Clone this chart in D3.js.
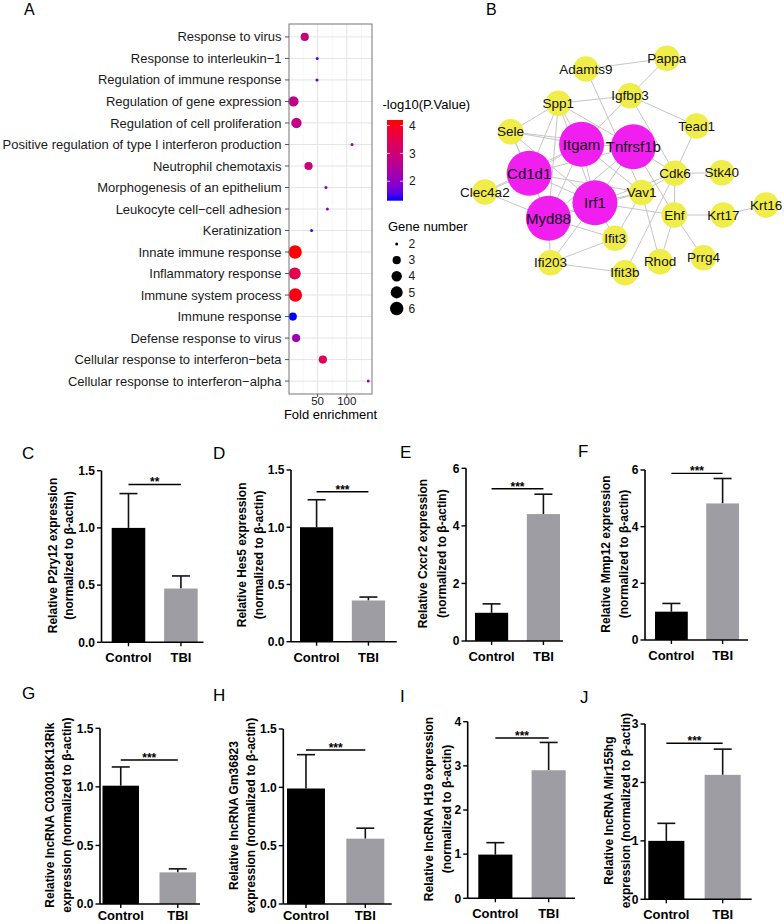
<!DOCTYPE html>
<html>
<head>
<meta charset="utf-8">
<script src="https://cdn.jsdelivr.net/npm/d3@7"></script>
<style>
  body { margin: 0; background: #fff; }
  svg { display: block; font-family: Arial, "Liberation Sans", sans-serif; }
</style>
</head>
<body>
<svg id="fig" width="784" height="924"></svg>
<script>
// ---------- panel A : GO enrichment ----------
const termNames = [
  "Response to virus", "Response to interleukin\u22121", "Regulation of immune response",
  "Regulation of gene expression", "Regulation of cell proliferation",
  "Positive regulation of type I interferon production", "Neutrophil chemotaxis",
  "Morphogenesis of an epithelium", "Leukocyte cell\u2212cell adhesion", "Keratinization",
  "Innate immune response", "Inflammatory response", "Immune system process",
  "Immune response", "Defense response to virus",
  "Cellular response to interferon\u2212beta", "Cellular response to interferon\u2212alpha"
];
const foldEnrichment = [28, 49.4, 49, 8.6, 13.8, 109, 34.5, 64.3, 66.7, 39.7, 11.5, 10.9, 12, 7.5, 13.2, 59, 136.7];
const logP = [2.9, 1.5, 1.5, 2.7, 2.8, 2.2, 3.0, 1.8, 2.1, 1.4, 4.2, 3.5, 4.1, 1.3, 2.2, 3.4, 2.2];
const geneCount = [3, 2, 2, 4, 4, 2, 3, 2, 2, 2, 6, 5, 6, 3, 3, 3, 2];
const foldTicks = [50, 100];
const pTicks = [2, 3, 4];
const geneLegend = [2, 3, 4, 5, 6];

// ---------- panel B : PPI network ----------
const nodeNames = ["Pappa", "Adamts9", "Igfbp3", "Spp1", "Tead1", "Sele", "Itgam", "Tnfrsf1b", "Cd1d1",
  "Cdk6", "Stk40", "Clec4a2", "Vav1", "Irf1", "Myd88", "Ehf", "Krt17", "Krt16", "Ifit3", "Ifi203",
  "Rhod", "Prrg4", "Ifit3b"];
// layout units (0-100)
const nodeX = [63.5, 37.4, 51.6, 28.5, 73.1, 13.1, 36.0, 52.7, 19.1, 66.1, 81.2, 4.8, 55.4, 40.3, 25.3, 65.9, 81.7, 95.5, 46.8, 26.0, 61.3, 75.3, 50.0];
const nodeY = [7.3, 11.6, 22.3, 25.3, 34.4, 36.7, 41.7, 42.7, 53.3, 53.3, 53.1, 60.8, 61.0, 65.1, 71.3, 70.0, 70.0, 66.0, 79.3, 89.1, 88.7, 87.1, 93.1];
const hubNodes = ["Itgam", "Tnfrsf1b", "Cd1d1", "Irf1", "Myd88"];
const edges = [
  ["Adamts9", "Pappa"], ["Pappa", "Igfbp3"], ["Spp1", "Igfbp3"], ["Igfbp3", "Tead1"], ["Igfbp3", "Itgam"],
  ["Igfbp3", "Cdk6"], ["Adamts9", "Vav1"],
  ["Spp1", "Sele"], ["Spp1", "Itgam"], ["Spp1", "Cd1d1"], ["Spp1", "Irf1"], ["Spp1", "Tnfrsf1b"], ["Spp1", "Myd88"],
  ["Sele", "Itgam"], ["Sele", "Tnfrsf1b"], ["Sele", "Cd1d1"], ["Sele", "Myd88"], ["Sele", "Irf1"],
  ["Tead1", "Cdk6"], ["Cdk6", "Stk40"], ["Cdk6", "Vav1"], ["Cdk6", "Tnfrsf1b"], ["Cdk6", "Irf1"],
  ["Cdk6", "Ifit3b"], ["Cdk6", "Ehf"], ["Tnfrsf1b", "Ehf"],
  ["Ehf", "Krt17"], ["Krt17", "Krt16"], ["Ehf", "Prrg4"], ["Ehf", "Rhod"], ["Ehf", "Irf1"],
  ["Vav1", "Itgam"], ["Vav1", "Irf1"], ["Vav1", "Cd1d1"], ["Vav1", "Myd88"], ["Vav1", "Rhod"], ["Vav1", "Ifit3"],
  ["Ifit3", "Irf1"], ["Ifit3", "Ifi203"], ["Ifit3", "Myd88"],
  ["Ifi203", "Myd88"], ["Ifi203", "Ifit3b"], ["Ifi203", "Irf1"],
  ["Clec4a2", "Cd1d1"], ["Clec4a2", "Myd88"], ["Clec4a2", "Itgam"],
  ["Itgam", "Tnfrsf1b"], ["Itgam", "Cd1d1"], ["Itgam", "Irf1"], ["Itgam", "Myd88"],
  ["Tnfrsf1b", "Irf1"], ["Tnfrsf1b", "Myd88"], ["Tnfrsf1b", "Cd1d1"],
  ["Cd1d1", "Irf1"], ["Cd1d1", "Myd88"], ["Irf1", "Myd88"]
];

// ---------- panels C-J : qPCR bars ----------
const groups = ["Control", "TBI"];
const barLetters = ["C", "D", "E", "F", "G", "H", "I", "J"];
const barMeans = [[1.0, 0.47], [1.0, 0.36], [0.98, 4.41], [1.0, 4.82], [1.01, 0.27], [0.99, 0.56], [0.99, 2.9], [1.0, 2.13]];
const barUpper = [[1.30, 0.58], [1.24, 0.39], [1.29, 5.1], [1.29, 5.7], [1.17, 0.30], [1.28, 0.65], [1.26, 3.53], [1.30, 2.57]];
const yMax = [1.5, 1.5, 6, 6, 1.5, 1.5, 4, 3];
const yStep = [0.5, 0.5, 2, 2, 0.5, 0.5, 1, 1];
const sigLevel = [1.38, 1.31, 5.29, 5.88, 1.23, 1.32, 3.63, 2.67];
const sigMarks = ["**", "***", "***", "***", "***", "***", "***", "***"];
const yTitles = [
  ["Relative P2ry12 expression", "(normalized to \u03b2-actin)"],
  ["Relative Hes5 expression", "(normalized to \u03b2-actin)"],
  ["Relative Cxcr2 expression", "(normalized to \u03b2-actin)"],
  ["Relative Mmp12 expression", "(normalized to \u03b2-actin)"],
  ["Relative lncRNA C030018K13Rik", "expression (normalized to \u03b2-actin)"],
  ["Relative lncRNA Gm36823", "expression (normalized to \u03b2-actin)"],
  ["Relative lncRNA H19 expression", "(normalized to \u03b2-actin)"],
  ["Relative lncRNA Mir155hg", "expression (normalized to \u03b2-actin)"]
];

const svg = d3.select("#fig");

// panel letters
const letterPos = [["A", 24, 15], ["B", 486, 15]];
svg.selectAll(".letterTop").data(letterPos).join("text")
  .attr("x", d => d[1]).attr("y", d => d[2])
  .attr("font-size", 16).text(d => d[0]);

// ================= panel A =================
const boxA = { left: 289, right: 372, top: 24, bottom: 394 };
const fe = d3.extent(foldEnrichment), pad = (fe[1] - fe[0]) * 0.05;
const xA = d3.scaleLinear().domain([fe[0] - pad, fe[1] + pad]).range([boxA.left, boxA.right]);
const yA = d3.scalePoint().domain(termNames).range([boxA.top, boxA.bottom]).padding(0.6);
const pExt = d3.extent(logP);
const colA = d3.scaleLinear().domain(pExt).range(["blue", "red"]).interpolate(d3.interpolateLab);
const rBase = d3.scaleSqrt().domain([0, 4]).range([1.5, 6.7]);
const rA = g => rBase(g - 2);

const gA = svg.append("g");
// minor grid
gA.selectAll(".minor").data([25, 75, 125]).join("line")
  .attr("x1", d => xA(d)).attr("x2", d => xA(d))
  .attr("y1", boxA.top).attr("y2", boxA.bottom)
  .attr("stroke", "#f2f2f2").attr("stroke-width", 0.6);
gA.selectAll(".majorX").data(foldTicks).join("line")
  .attr("x1", d => xA(d)).attr("x2", d => xA(d))
  .attr("y1", boxA.top).attr("y2", boxA.bottom)
  .attr("stroke", "#e4e4e4").attr("stroke-width", 1);
gA.selectAll(".majorY").data(termNames).join("line")
  .attr("x1", boxA.left).attr("x2", boxA.right)
  .attr("y1", d => yA(d)).attr("y2", d => yA(d))
  .attr("stroke", "#e4e4e4").attr("stroke-width", 1);

gA.selectAll("circle").data(termNames).join("circle")
  .attr("cx", (d, i) => xA(foldEnrichment[i]))
  .attr("cy", d => yA(d))
  .attr("r", (d, i) => rA(geneCount[i]))
  .attr("fill", (d, i) => colA(logP[i]));

gA.append("rect")
  .attr("x", boxA.left).attr("y", boxA.top)
  .attr("width", boxA.right - boxA.left).attr("height", boxA.bottom - boxA.top)
  .attr("fill", "none").attr("stroke", "#777").attr("stroke-width", 1);

// y axis labels
gA.selectAll(".ytick").data(termNames).join("line")
  .attr("x1", boxA.left - 4).attr("x2", boxA.left)
  .attr("y1", d => yA(d)).attr("y2", d => yA(d))
  .attr("stroke", "#555");
gA.selectAll(".ylab").data(termNames).join("text")
  .attr("x", boxA.left - 7.5).attr("y", d => yA(d))
  .attr("dy", "0.35em").attr("text-anchor", "end")
  .attr("font-size", 13).attr("fill", "#1a1a1a")
  .text(d => d);
// x axis
gA.selectAll(".xtick").data(foldTicks).join("line")
  .attr("x1", d => xA(d)).attr("x2", d => xA(d))
  .attr("y1", boxA.bottom).attr("y2", boxA.bottom + 3)
  .attr("stroke", "#555");
gA.selectAll(".xlab").data(foldTicks).join("text")
  .attr("x", d => xA(d)).attr("y", boxA.bottom + 10.5)
  .attr("text-anchor", "middle").attr("font-size", 11.5).attr("fill", "#1a1a1a")
  .text(d => d);
gA.append("text").attr("x", (boxA.left + boxA.right) / 2).attr("y", boxA.bottom + 25)
  .attr("text-anchor", "middle").attr("font-size", 13).text("Fold enrichment");

// colour legend
const cb = { x: 387, w: 16, top: 120, bottom: 200.7 };
const yCb = d3.scaleLinear().domain(pExt).range([cb.bottom, cb.top]);
const grad = svg.append("defs").append("linearGradient").attr("id", "pgrad")
  .attr("x1", 0).attr("x2", 0).attr("y1", 1).attr("y2", 0);
grad.selectAll("stop").data(d3.range(0, 1.001, 0.1)).join("stop")
  .attr("offset", d => d)
  .attr("stop-color", d => colA(pExt[0] + d * (pExt[1] - pExt[0])));
gA.append("text").attr("x", 382.5).attr("y", 108.5).attr("font-size", 13).text("-log10(P.Value)");
gA.append("rect").attr("x", cb.x).attr("y", cb.top).attr("width", cb.w).attr("height", cb.bottom - cb.top)
  .attr("fill", "url(#pgrad)");
pTicks.forEach(t => {
  gA.append("line").attr("x1", cb.x).attr("x2", cb.x + 3).attr("y1", yCb(t)).attr("y2", yCb(t))
    .attr("stroke", "#fff").attr("stroke-opacity", 0.7);
  gA.append("line").attr("x1", cb.x + cb.w - 3).attr("x2", cb.x + cb.w).attr("y1", yCb(t)).attr("y2", yCb(t))
    .attr("stroke", "#fff").attr("stroke-opacity", 0.7);
});
gA.selectAll(".cblab").data(pTicks).join("text")
  .attr("x", cb.x + cb.w + 6).attr("y", d => yCb(d)).attr("dy", "0.35em")
  .attr("font-size", 12).attr("fill", "#1a1a1a").text(d => d);

// size legend
gA.append("text").attr("x", 388).attr("y", 230.5).attr("font-size", 13).text("Gene number");
const ySz = d3.scalePoint().domain(geneLegend).range([244, 308.5]);
gA.selectAll(".szdot").data(geneLegend).join("circle")
  .attr("cx", 396.7).attr("cy", d => ySz(d)).attr("r", d => rA(d)).attr("fill", "#000");
gA.selectAll(".szlab").data(geneLegend).join("text")
  .attr("x", 408.5).attr("y", d => ySz(d)).attr("dy", "0.35em")
  .attr("font-size", 12).attr("fill", "#1a1a1a").text(d => d);

// ================= panel B =================
const xB = d3.scaleLinear().domain([0, 100]).range([470, 780]);
const yB = d3.scaleLinear().domain([0, 100]).range([40, 290]);
const nodes = nodeNames.map((n, i) => ({ name: n, x: xB(nodeX[i]), y: yB(nodeY[i]), hub: hubNodes.includes(n) }));
const byName = new Map(nodes.map(n => [n.name, n]));
const rB = d3.scaleOrdinal().domain([true, false]).range([22.5, 12.8]);
const colB = d3.scaleOrdinal().domain([true, false]).range(["#f01ff0", "#f0ec48"]);

const gB = svg.append("g");
gB.selectAll("line").data(edges).join("line")
  .attr("x1", d => byName.get(d[0]).x).attr("y1", d => byName.get(d[0]).y)
  .attr("x2", d => byName.get(d[1]).x).attr("y2", d => byName.get(d[1]).y)
  .attr("stroke", "#c6c6c6").attr("stroke-width", 1);
gB.selectAll("circle").data(nodes).join("circle")
  .attr("cx", d => d.x).attr("cy", d => d.y)
  .attr("r", d => rB(d.hub)).attr("fill", d => colB(d.hub));
gB.selectAll("text").data(nodes).join("text")
  .attr("x", d => d.x).attr("y", d => d.y).attr("dy", "0.35em")
  .attr("text-anchor", "middle").attr("font-size", d => d.hub ? 15 : 13.5)
  .attr("fill", "#111").text(d => d.name);

// ================= panels C-J =================
const barLayouts = [
  { axisX: 101.5, axisEnd: 203.5, y0: 642.3, y1: 470.7, bars: [111.7, 197.7], letter: [22, 459], titleX: [53, 68.5] },
  { axisX: 291, axisEnd: 396.7, y0: 641.7, y1: 470, bars: [300, 385], letter: [213, 459], titleX: [241.7, 258.5] },
  { axisX: 466, axisEnd: 563, y0: 641, y1: 468.3, bars: [475, 560], letter: [400, 458], titleX: [423, 441.7] },
  { axisX: 645, axisEnd: 748, y0: 640, y1: 470, bars: [655, 739], letter: [578, 457], titleX: [606, 623.5] },
  { axisX: 100, axisEnd: 200, y0: 904, y1: 728.3, bars: [102.5, 196], letter: [22, 699], titleX: [49.3, 66.3] },
  { axisX: 283.3, axisEnd: 391.7, y0: 904, y1: 729, bars: [287, 384.3], letter: [213, 700.5], titleX: [233.3, 250.7] },
  { axisX: 467.7, axisEnd: 575, y0: 898.3, y1: 721.7, bars: [478.3, 565.7], letter: [400, 701.5], titleX: [428.3, 446.7] },
  { axisX: 645, axisEnd: 751.7, y0: 899.3, y1: 724, bars: [648.3, 740.7], letter: [580, 702.5], titleX: [608.3, 625.3] }
];
const barFill = d3.scaleOrdinal().domain(groups).range(["#000000", "#9e9da3"]);

barLayouts.forEach((L, k) => {
  const g = svg.append("g");
  const x = d3.scaleBand().domain(groups).range(L.bars).paddingInner(0.36).paddingOuter(0);
  const y = d3.scaleLinear().domain([0, yMax[k]]).range([L.y0, L.y1]);
  const ticks = d3.range(0, yMax[k] + 1e-9, yStep[k]);
  const fmt = yStep[k] < 1 ? d3.format(".1f") : d3.format("d");

  // error bars (upper only)
  groups.forEach((grp, j) => {
    const cx = x(grp) + x.bandwidth() / 2;
    g.append("line").attr("x1", cx).attr("x2", cx)
      .attr("y1", y(barMeans[k][j])).attr("y2", y(barUpper[k][j]))
      .attr("stroke", "#111").attr("stroke-width", 1.6);
    g.append("line").attr("x1", cx - 9).attr("x2", cx + 9)
      .attr("y1", y(barUpper[k][j])).attr("y2", y(barUpper[k][j]))
      .attr("stroke", "#111").attr("stroke-width", 1.6);
  });
  g.selectAll("rect").data(groups).join("rect")
    .attr("x", d => x(d)).attr("width", x.bandwidth())
    .attr("y", (d, j) => y(barMeans[k][j]))
    .attr("height", (d, j) => L.y0 - y(barMeans[k][j]))
    .attr("fill", d => barFill(d));

  // axes
  g.append("line").attr("x1", L.axisX).attr("x2", L.axisX).attr("y1", L.y0).attr("y2", L.y1)
    .attr("stroke", "#000").attr("stroke-width", 1.6);
  g.append("line").attr("x1", L.axisX).attr("x2", L.axisEnd).attr("y1", L.y0).attr("y2", L.y0)
    .attr("stroke", "#000").attr("stroke-width", 1.6);
  g.selectAll(".yt").data(ticks).join("line")
    .attr("x1", L.axisX - 4.5).attr("x2", L.axisX).attr("y1", d => y(d)).attr("y2", d => y(d))
    .attr("stroke", "#000").attr("stroke-width", 1.4);
  g.selectAll(".yl").data(ticks).join("text")
    .attr("x", L.axisX - 6.5).attr("y", d => y(d)).attr("dy", "0.36em")
    .attr("text-anchor", "end").attr("font-size", 12).attr("font-weight", "bold")
    .text(d => fmt(d));
  g.selectAll(".xt").data(groups).join("line")
    .attr("x1", d => x(d) + x.bandwidth() / 2).attr("x2", d => x(d) + x.bandwidth() / 2)
    .attr("y1", L.y0).attr("y2", L.y0 + 4)
    .attr("stroke", "#000").attr("stroke-width", 1.4);
  g.selectAll(".xl").data(groups).join("text")
    .attr("x", d => x(d) + x.bandwidth() / 2).attr("y", Math.min(L.y0 + 20, 920))
    .attr("text-anchor", "middle").attr("font-size", 13).attr("font-weight", "bold")
    .text(d => d);

  // significance
  const c0 = x(groups[0]) + x.bandwidth() / 2, c1 = x(groups[1]) + x.bandwidth() / 2;
  g.append("line").attr("x1", c0).attr("x2", c1)
    .attr("y1", y(sigLevel[k])).attr("y2", y(sigLevel[k]))
    .attr("stroke", "#000").attr("stroke-width", 1.4);
  g.append("text").attr("x", (c0 + c1) / 2).attr("y", y(sigLevel[k]) + 2)
    .attr("text-anchor", "middle").attr("font-size", 12).attr("font-weight", "bold")
    .text(sigMarks[k]);

  // y title
  const midY = (L.y0 + L.y1) / 2 - 1;
  yTitles[k].forEach((t, j) => {
    g.append("text")
      .attr("transform", `translate(${L.titleX[j]},${midY}) rotate(-90)`)
      .attr("dy", "0.35em").attr("text-anchor", "middle")
      .attr("font-size", 12).attr("font-weight", "bold").text(t);
  });

  // letter
  g.append("text").attr("x", L.letter[0]).attr("y", L.letter[1])
    .attr("font-size", 17).text(barLetters[k]);
});
</script>
</body>
</html>
